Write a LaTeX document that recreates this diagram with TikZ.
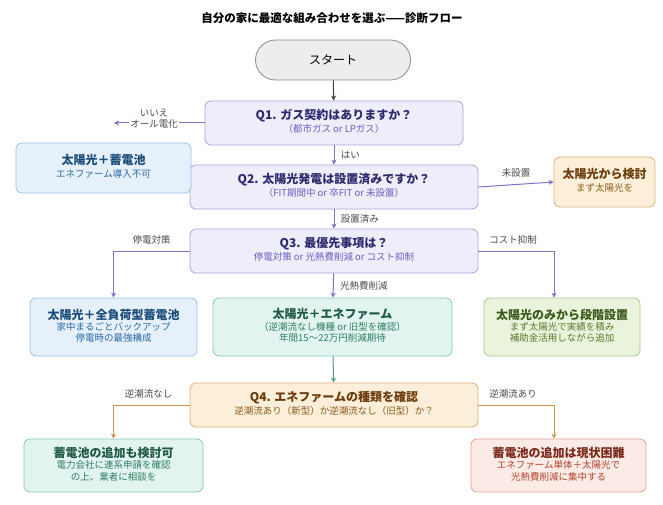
\documentclass[tikz,border=0pt]{standalone}
\usepackage{fontspec}
\setmainfont{Noto Sans CJK JP}
\usetikzlibrary{arrows.meta}
\definecolor{qf}{HTML}{EEEEFB}\definecolor{qd}{HTML}{A9A6DE}\definecolor{qt}{HTML}{2E2A6E}\definecolor{qs}{HTML}{6A5FC0}
\definecolor{bf}{HTML}{E6F0FB}\definecolor{bd}{HTML}{9CC1E8}\definecolor{bt}{HTML}{1A4C7A}\definecolor{bs}{HTML}{2A6AA5}
\definecolor{tf}{HTML}{E2F4EF}\definecolor{td}{HTML}{8CC9B7}\definecolor{tt}{HTML}{1E5946}\definecolor{ts}{HTML}{2E7D64}
\definecolor{gf}{HTML}{EAF3DC}\definecolor{gd}{HTML}{A9C98A}\definecolor{gt}{HTML}{3C5A1A}\definecolor{gs}{HTML}{5A7A2E}
\definecolor{of}{HTML}{FCEFD9}\definecolor{od}{HTML}{E0B27A}\definecolor{ot}{HTML}{6B3B0B}\definecolor{os}{HTML}{8A5A1A}
\definecolor{rf}{HTML}{FBEAE5}\definecolor{rd}{HTML}{E0A595}\definecolor{rt}{HTML}{7A2A1A}\definecolor{rs}{HTML}{B0452A}
\definecolor{al}{HTML}{7B72C9}\definecolor{at}{HTML}{4E9A84}\definecolor{ao}{HTML}{C9954A}
\begin{document}
\begin{tikzpicture}[x=1pt,y=-1pt,
 box/.style={draw=#1d,fill=#1f,rounded corners=6pt,line width=0.8pt,align=center,inner sep=0pt},
 arr/.style={draw=#1,line width=1pt,-{Stealth[length=5pt,width=5pt]}},
 lbl/.style={font=\fontsize{9.5}{11}\selectfont,text=black!70,align=center}]
\useasboundingbox (0,0) rectangle (663,505);
\fill[white] (0,0) rectangle (663,505);
\node[font=\bfseries\fontsize{11.5}{13}\selectfont] (title) at (332,18) {自分の家に最適な組み合わせを選ぶ——診断フロー};
\node[draw=black!45,fill=black!7,rounded corners=20pt,line width=0.8pt,minimum width=155pt,minimum height=40pt,font=\fontsize{12}{14}\selectfont] (start) at (333,60) {スタート};
\newcommand\bx[8]{\node[box=#1,minimum width=#4pt,minimum height=#5pt] (#6) at (#2,#3) {{\color{#1t}\bfseries\fontsize{12}{15}\selectfont #7}\\[1pt]{\color{#1s}\fontsize{9.5}{11.5}\selectfont\begin{tabular}{@{}c@{}}#8\end{tabular}}};}
\bx{q}{334}{123}{258}{44}{q1}{Q1. ガス契約はありますか？}{（都市ガス or LPガス）}
\bx{q}{334}{187}{288}{44}{q2}{Q2. 太陽光発電は設置済みですか？}{（FIT期間中 or 卒FIT or 未設置）}
\bx{q}{334}{251}{288}{44}{q3}{Q3. 最優先事項は？}{停電対策 or 光熱費削減 or コスト抑制}
\bx{b}{103.5}{168}{175}{50}{nb}{太陽光＋蓄電池}{エネファーム導入不可}
\bx{o}{604.5}{182}{101}{50}{no}{太陽光から検討}{まず太陽光を}
\bx{b}{113.5}{327}{167}{58}{r1}{太陽光＋全負荷型蓄電池}{家中まるごとバックアップ\\停電時の最強構成}
\bx{t}{332.5}{327}{239}{58}{r2}{太陽光＋エネファーム}{（逆潮流なし機種 or 旧型を確認）\\年間15〜22万円削減期待}
\bx{g}{562}{327}{156}{58}{r3}{太陽光のみから段階設置}{まず太陽光で実績を積み\\補助金活用しながら追加}
\bx{o}{334}{405}{288}{44}{q4}{Q4. エネファームの種類を確認}{逆潮流あり（新型）か逆潮流なし（旧型）か？}
\bx{t}{113.5}{465.5}{179}{53}{e1}{蓄電池の追加も検討可}{電力会社に連系申請を確認\\の上、業者に相談を}
\bx{r}{558.5}{465.5}{175}{53}{e2}{蓄電池の追加は現状困難}{エネファーム単体＋太陽光で\\光熱費削減に集中する}
\coordinate (nx) at (114,123);
\coordinate (rx) at (554,0);
\draw[arr=black!75] (start) -- (q1);
\draw[arr=al] (q1.west) -- (nx);
\node[lbl,fill=white,inner sep=1pt] at (154,119) {いいえ\\オール電化};
\draw[arr=al] (q1) -- (q2) node[lbl,midway,right=3pt] {はい};
\draw[arr=al] (q2.east) -- (no.west) node[lbl,midway,above=3pt] {未設置};
\draw[arr=al] (q2) -- (q3) node[lbl,midway,right=3pt] {設置済み};
\draw[arr=al] (q3.west) -| (r1.north) node[lbl,pos=0.5,above=3pt,xshift=38pt] {停電対策};
\draw[arr=al] (q3.east) -| (r3.north -| rx) node[lbl,pos=0.5,above=3pt,xshift=-41pt] {コスト抑制};
\draw[arr=al] (q3) -- (r2) node[lbl,midway,right=3pt] {光熱費削減};
\draw[arr=at] (r2) -- (q4);
\draw[arr=ao] (q4.west) -| (e1.north -| r1) node[lbl,pos=0.5,above=3pt,xshift=35pt] {逆潮流なし};
\draw[arr=ao] (q4.east) -| (e2.north -| rx) node[lbl,pos=0.5,above=3pt,xshift=-41pt] {逆潮流あり};
\end{tikzpicture}
\end{document}
